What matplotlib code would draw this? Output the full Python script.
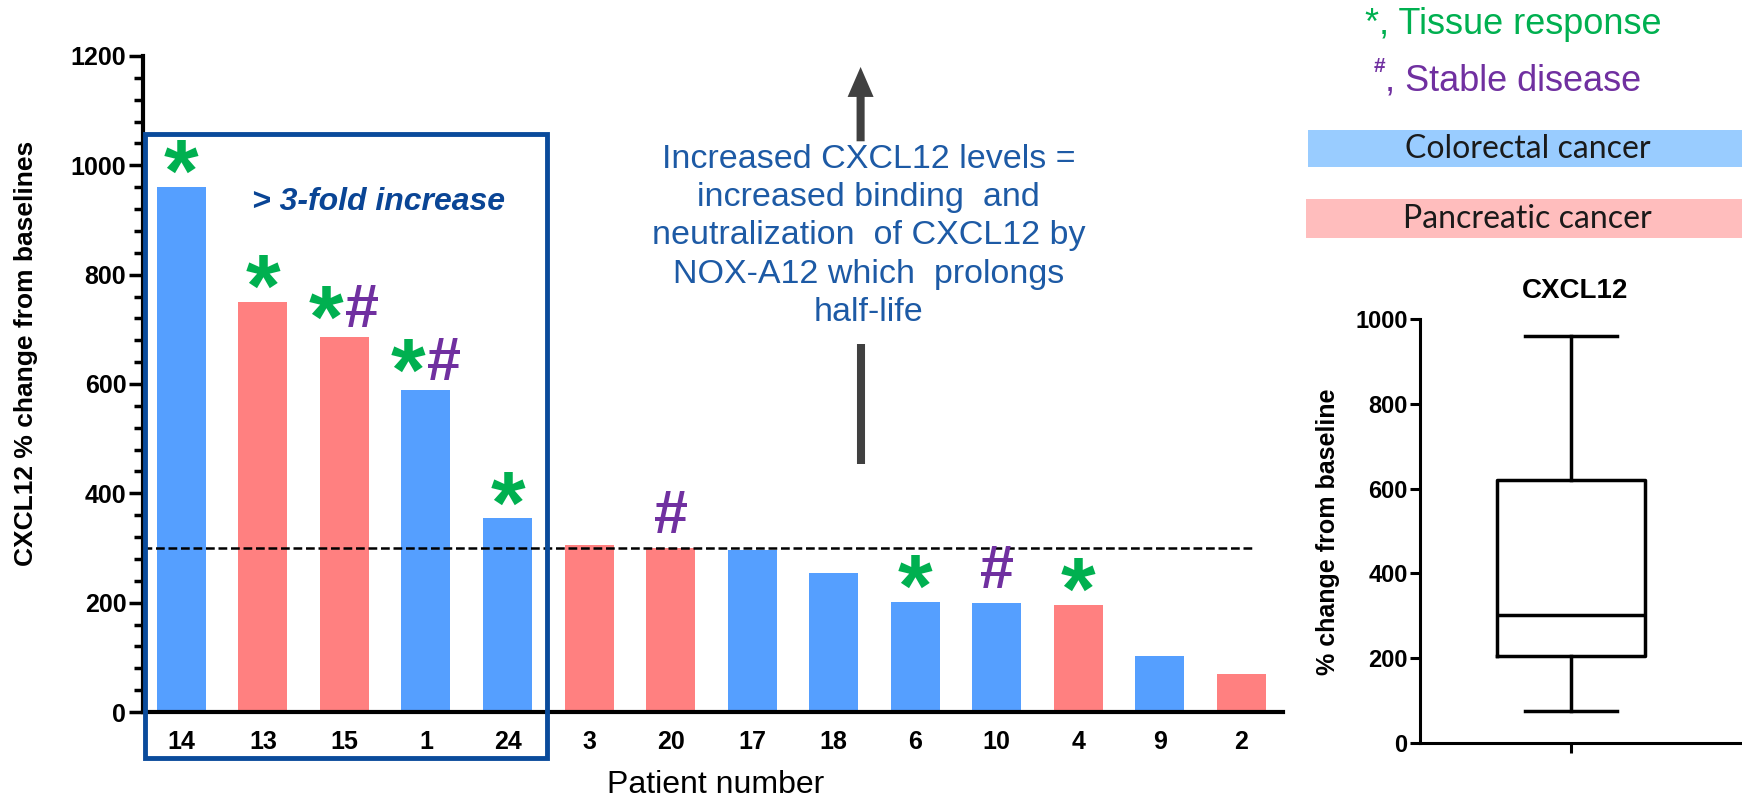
import numpy as np
import matplotlib.pyplot as plt
from matplotlib.patches import Rectangle
from matplotlib.ticker import MultipleLocator

plt.rcParams['font.family'] = 'Liberation Sans'

# data
patients = ['14', '13', '15', '1', '24', '3', '20', '17', '18', '6', '10', '4', '9', '2']
pct_change = [960, 750, 686, 589, 354, 305, 300, 297, 255, 202, 200, 195, 102, 69]
cancer_type = ['CRC', 'PDAC', 'PDAC', 'CRC', 'CRC', 'PDAC', 'PDAC',
               'CRC', 'CRC', 'CRC', 'CRC', 'PDAC', 'CRC', 'PDAC']
tissue_response = ['14', '13', '15', '1', '24', '6', '4']
stable_disease = ['15', '1', '20', '10']
threshold = 300

# box plot summary (right panel)
box_stats = dict(whislo=75, q1=205, med=303, q3=620, whishi=960)

blue = '#559fff'
pink = '#ff8080'
green = '#00b050'
purple = '#7030a0'
W, H = 1742, 798

fig = plt.figure(figsize=(W / 100, H / 100), dpi=100)

# ---- main bar chart
ax = fig.add_axes([143 / W, 1 - 712 / H, 1140 / W, 656 / H])
x = np.arange(len(patients))
colors = [blue if c == 'CRC' else pink for c in cancer_type]
ax.bar(x, pct_change, width=0.6, color=colors, zorder=2)
ax.set_xlim(-0.47, 13.51)
ax.set_ylim(0, 1200)
ax.set_xticks(x, patients)
ax.yaxis.set_major_locator(MultipleLocator(200))
ax.yaxis.set_minor_locator(MultipleLocator(40))
for s in ['top', 'right']:
    ax.spines[s].set_visible(False)
ax.spines['left'].set_linewidth(3)
ax.spines['bottom'].set_linewidth(3)
ax.tick_params(axis='y', which='major', length=10, width=2.5, labelsize=18, pad=2)
ax.tick_params(axis='y', which='minor', length=6.5, width=2.5)
ax.tick_params(axis='x', length=0, pad=13, labelsize=18)
for lbl in ax.get_xticklabels() + ax.get_yticklabels():
    lbl.set_fontweight('bold')

ax.set_ylabel('CXCL12 % change from baselines', fontsize=19, fontweight='bold')
ax.yaxis.set_label_coords(-0.092, 0.546)
ax.set_xlabel('Patient number', fontsize=23)
ax.xaxis.set_label_coords(0.502, -0.088)

# threshold line
ax.plot([-0.47, 13.17], [threshold, threshold], color='black', lw=1.8,
        ls=(0, (3.5, 1.5)), zorder=3, clip_on=False)

# >3-fold box
ax.add_patch(Rectangle((-0.45, -84), 4.93, 1141, fill=False, ec='#0a4b9b',
                       lw=3.5, clip_on=False, zorder=5))
ax.text(2.42, 933, '> 3-fold increase', ha='center', va='center', fontsize=23,
        fontweight='bold', fontstyle='italic', color='#0a4595')

# response markers
for i, p in enumerate(patients):
    t = p in tissue_response
    sd = p in stable_disease
    if t and sd:
        ax.annotate('*', xy=(i, pct_change[i]), xytext=(-13, -7), textcoords='offset points',
                    ha='center', va='baseline', fontsize=64, fontweight='bold', color=green)
        ax.annotate('#', xy=(i, pct_change[i]), xytext=(13, 7.5), textcoords='offset points',
                    ha='center', va='baseline', fontsize=44, fontweight='bold', color=purple)
    elif t:
        ax.annotate('*', xy=(i, pct_change[i]), xytext=(0, -10), textcoords='offset points',
                    ha='center', va='baseline', fontsize=64, fontweight='bold', color=green)
    elif sd:
        ax.annotate('#', xy=(i, pct_change[i]), xytext=(0, 10.5), textcoords='offset points',
                    ha='center', va='baseline', fontsize=44, fontweight='bold', color=purple)

# arrow + explanation
ax.annotate('', xy=(8.33, 1180), xytext=(8.33, 1044),
            arrowprops=dict(arrowstyle='simple,head_length=2.16,head_width=1.87,tail_width=0.58',
                            mutation_scale=10, color='#404040', lw=0, shrinkA=0, shrinkB=0),
            annotation_clip=False)
ax.plot([8.33, 8.33], [454, 673], color='#404040', lw=5.8, solid_capstyle='butt')
ax.text(8.43, 871, 'Increased CXCL12 levels =\nincreased binding  and\n'
        'neutralization  of CXCL12 by\nNOX-A12 which  prolongs\nhalf-life',
        ha='center', va='center', fontsize=24.5, color='#1d5aa5', linespacing=1.3,
        multialignment='center')

# ---- legend (top right)
fig.text(1513 / W, 1 - 25 / H, '*, Tissue response', ha='center', va='center',
         fontsize=26, color=green)
fig.text(1385 / W, 1 - 81 / H, ', Stable disease', ha='left', va='center',
         fontsize=26, color=purple)
fig.text(1385 / W, 1 - 66 / H, '#', ha='right', va='center', fontsize=15,
         fontweight='bold', color=purple)
fig.add_artist(Rectangle((1308 / W, 1 - 167 / H), 434 / W, 37 / H,
                         transform=fig.transFigure, color='#99ccff', lw=0))
fig.add_artist(Rectangle((1306 / W, 1 - 238 / H), 436 / W, 39 / H,
                         transform=fig.transFigure, color='#ffbdbd', lw=0))
fig.text(1528 / W, 1 - 149 / H, 'Colorectal cancer', ha='center', va='center',
         fontsize=23, family='Lato', color='#1a1a1a')
fig.text(1527 / W, 1 - 219 / H, 'Pancreatic cancer', ha='center', va='center',
         fontsize=23, family='Lato', color='#1a1a1a')

# ---- box plot
bx = fig.add_axes([1420 / W, 1 - 743 / H, 322 / W, 424 / H])
lp = dict(color='black', lw=2.5)
bx.bxp([box_stats], positions=[0.469], widths=0.46, capwidths=0.286, showfliers=False,
       boxprops=lp, whiskerprops=lp, capprops=lp, medianprops=lp)
bx.set_xlim(0, 1)
bx.set_ylim(0, 1000)
bx.set_xticks([0.469], [''])
bx.yaxis.set_major_locator(MultipleLocator(200))
for s in ['top', 'right']:
    bx.spines[s].set_visible(False)
bx.spines['left'].set_linewidth(2.2)
bx.spines['bottom'].set_linewidth(2.2)
bx.tick_params(axis='both', length=7, width=2.2, labelsize=17, pad=2)
for lbl in bx.get_yticklabels():
    lbl.set_fontweight('bold')
bx.set_ylabel('% change from baseline', fontsize=18, fontweight='bold')
bx.yaxis.set_label_coords(-0.248, 0.498)
fig.text(1575 / W, 1 - 291 / H, 'CXCL12', ha='center', va='center', fontsize=20,
         fontweight='bold')

fig.savefig('out.png', dpi=100)
